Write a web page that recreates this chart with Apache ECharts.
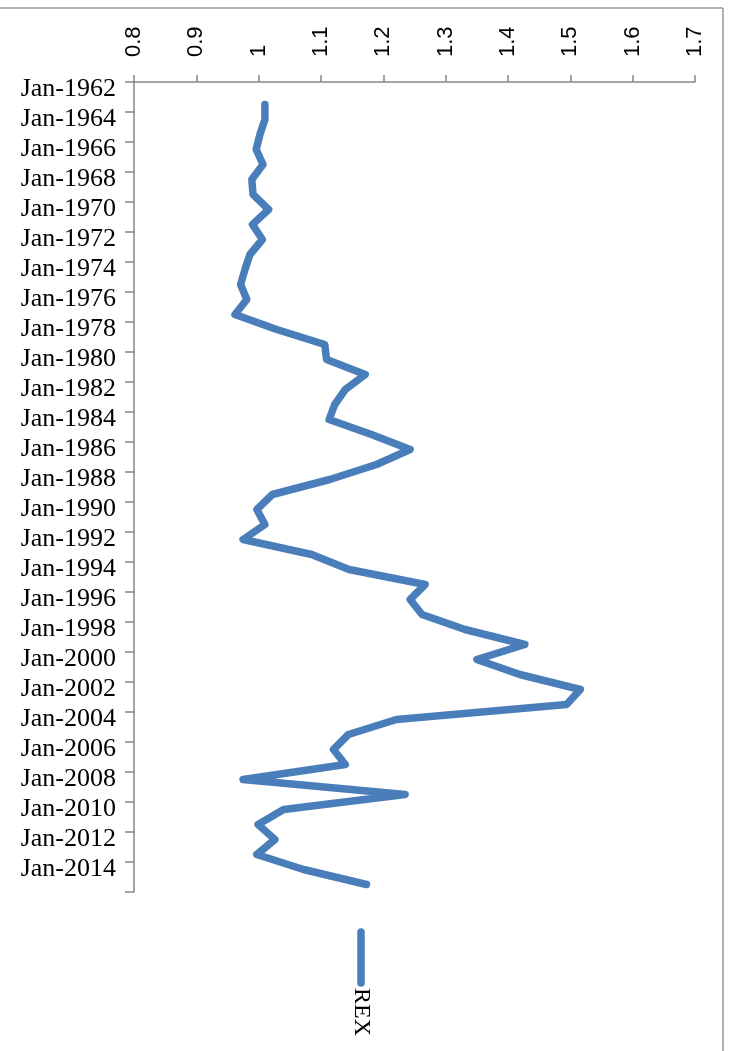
<!DOCTYPE html>
<html>
<head>
<meta charset="utf-8">
<script src="https://cdn.jsdelivr.net/npm/echarts@6/dist/echarts.min.js"></script>
<style>
html,body{margin:0;padding:0;background:#fff;}
#chart{width:731px;height:1051px;}
</style>
</head>
<body>
<div id="chart"></div>
<script>
// Categories: January of each year
var years = [1962,1963,1964,1965,1966,1967,1968,1969,1970,1971,1972,1973,1974,1975,1976,1977,1978,1979,1980,1981,1982,1983,1984,1985,1986,1987,1988,1989,1990,1991,1992,1993,1994,1995,1996,1997,1998,1999,2000,2001,2002,2003,2004,2005,2006,2007,2008,2009,2010,2011,2012,2013,2014,2015];
var categories = years.map(function(y){ return 'Jan-' + y; });
// REX series values (1962 has no value)
var rex = [null,1.010,1.010,1.002,0.996,1.007,0.989,0.991,1.016,0.990,1.006,0.986,0.978,0.971,0.981,0.962,1.029,1.106,1.109,1.171,1.139,1.122,1.113,1.181,1.243,1.189,1.114,1.022,0.997,1.010,0.975,1.085,1.145,1.267,1.243,1.262,1.331,1.427,1.350,1.419,1.516,1.494,1.221,1.144,1.120,1.139,0.975,1.235,1.040,0.999,1.026,0.997,1.072,1.173];
var seriesName = 'REX';
var valueMin = 0.8, valueMax = 1.7, valueStep = 0.1;

var chart = echarts.init(document.getElementById('chart'), null, {renderer:'canvas'});
var axisColor = '#868686';
var lineColor = '#4a7ebb';
chart.setOption({
  animation: false,
  backgroundColor: '#fff',
  grid: {left:134, top:82, right:36, bottom:159, containLabel:false},
  xAxis: {
    type:'value', position:'top', min:valueMin, max:valueMax, interval:valueStep,
    axisLine:{show:true, lineStyle:{color:axisColor, width:1.5}},
    axisTick:{show:true, inside:false, length:7, lineStyle:{color:axisColor, width:1.5}},
    splitLine:{show:false},
    axisLabel:{show:true, rotate:-90, margin:25, color:'#000', fontFamily:'Liberation Sans', fontSize:22,
      formatter:function(v){ return String(Math.round(v*10)/10); }}
  },
  yAxis: {
    type:'category', data:categories, inverse:true, boundaryGap:true,
    axisLine:{show:true, lineStyle:{color:axisColor, width:1.5}},
    axisTick:{show:true, interval:1, length:9, lineStyle:{color:axisColor, width:1.5}},
    splitLine:{show:false},
    axisLabel:{interval:1, margin:18, color:'#000', fontFamily:'Liberation Serif', fontSize:26, padding:[5,0,0,0]}
  },
  series: [{
    name: seriesName, type:'line', data:rex, symbol:'none', connectNulls:false,
    lineStyle:{color:lineColor, width:7.5, cap:'round', join:'round'}
  }],
  graphic: [
    {type:'line', shape:{x1:0, y1:8, x2:723, y2:8}, style:{stroke:'#999', lineWidth:1.5}},
    {type:'line', shape:{x1:723, y1:8, x2:723, y2:1051}, style:{stroke:'#999', lineWidth:1.5}},
    {type:'line', shape:{x1:361, y1:932, x2:361, y2:983}, style:{stroke:lineColor, lineWidth:7.5, lineCap:'round'}},
    {type:'text', x:361, y:988, rotation:-Math.PI/2,
      style:{text:seriesName, font:'24px "Liberation Serif"', fill:'#000', textAlign:'left', textVerticalAlign:'middle'}}
  ]
});
</script>
</body>
</html>
